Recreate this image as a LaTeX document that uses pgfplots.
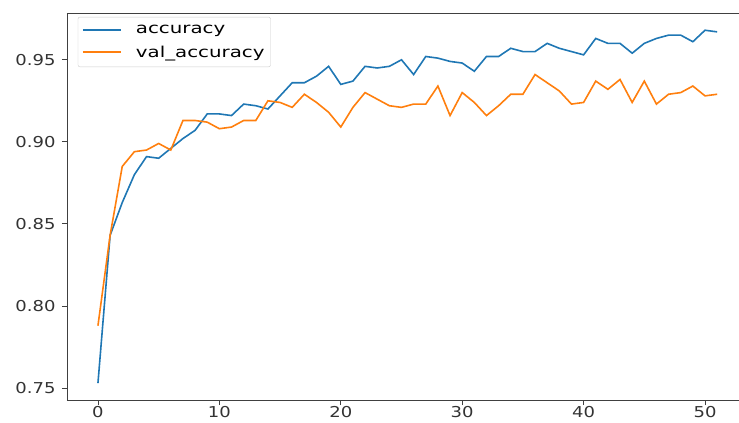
\documentclass[border=0pt]{standalone}
\usepackage{fontspec}
\setmainfont{DejaVu Sans}[FakeStretch=1.2]
\newfontfamily\legfont{DejaVu Sans}[FakeStretch=1.32]
\usepackage{pgfplots}
\usepackage{pgfplotstable}
\pgfplotsset{compat=1.18}
\definecolor{mplblue}{HTML}{1F77B4}
\definecolor{mplorange}{HTML}{FF7F0E}

\pgfplotstableread{
epoch acc val
0 0.753 0.788
1 0.843 0.843
2 0.863 0.885
3 0.880 0.894
4 0.891 0.895
5 0.890 0.899
6 0.896 0.895
7 0.902 0.913
8 0.907 0.913
9 0.917 0.912
10 0.917 0.908
11 0.916 0.909
12 0.923 0.913
13 0.922 0.913
14 0.920 0.925
15 0.928 0.924
16 0.936 0.921
17 0.936 0.929
18 0.940 0.924
19 0.946 0.918
20 0.935 0.909
21 0.937 0.921
22 0.946 0.930
23 0.945 0.926
24 0.946 0.922
25 0.950 0.921
26 0.941 0.923
27 0.952 0.923
28 0.951 0.934
29 0.949 0.916
30 0.948 0.930
31 0.943 0.924
32 0.952 0.916
33 0.952 0.922
34 0.957 0.929
35 0.955 0.929
36 0.955 0.941
37 0.960 0.936
38 0.957 0.931
39 0.955 0.923
40 0.953 0.924
41 0.963 0.937
42 0.960 0.932
43 0.960 0.938
44 0.954 0.924
45 0.960 0.937
46 0.963 0.923
47 0.965 0.929
48 0.965 0.930
49 0.961 0.934
50 0.968 0.928
51 0.967 0.929
}\datatable

\begin{document}
\begin{tikzpicture}
\begin{axis}[
  scale only axis,
  width=672pt, height=387pt,
  xmin=-2.55, xmax=52.8,
  ymin=0.7427, ymax=0.9785,
  axis x line*=box, axis y line*=left,
  axis line style={black!75, line width=0.9pt},
  xtick={0,10,20,30,40,50},
  ytick={0.75,0.80,0.85,0.90,0.95},
  xtick pos=bottom, ytick pos=left,
  tick align=outside,
  major tick length=5pt,
  every tick/.style={black!75, line width=0.9pt},
  /pgf/number format/assume math mode=true,
  y tick label style={/pgf/number format/fixed, /pgf/number format/fixed zerofill, /pgf/number format/precision=2, xshift=-3pt},
  x tick label style={yshift=0pt, inner sep=1pt},
  every tick label/.append style={font=\fontsize{15}{17}\selectfont, text=black!80},
  legend style={at={(0.016,0.99)}, anchor=north west, draw=black!20,
    rounded corners=2pt, font=\legfont\fontsize{15}{17}\selectfont,
    row sep=7pt, inner xsep=4pt, inner ysep=6pt,
    /tikz/every odd column/.append style={column sep=12pt}},
  legend cell align=left,
  legend image code/.code={\draw[#1, line width=2pt] (0pt,0pt) -- (38pt,0pt);},
]
\addplot[mplblue, line width=1.6pt] table[x=epoch, y=acc] {\datatable};
\addplot[mplorange, line width=1.6pt] table[x=epoch, y=val] {\datatable};
\legend{accuracy, val\_accuracy}
\coordinate (bl) at (rel axis cs:-0.0997,-0.0594);
\coordinate (tr) at (rel axis cs:1,1.0336);
\end{axis}
\pgfresetboundingbox
\useasboundingbox (bl) rectangle (tr);
\end{tikzpicture}
\end{document}
